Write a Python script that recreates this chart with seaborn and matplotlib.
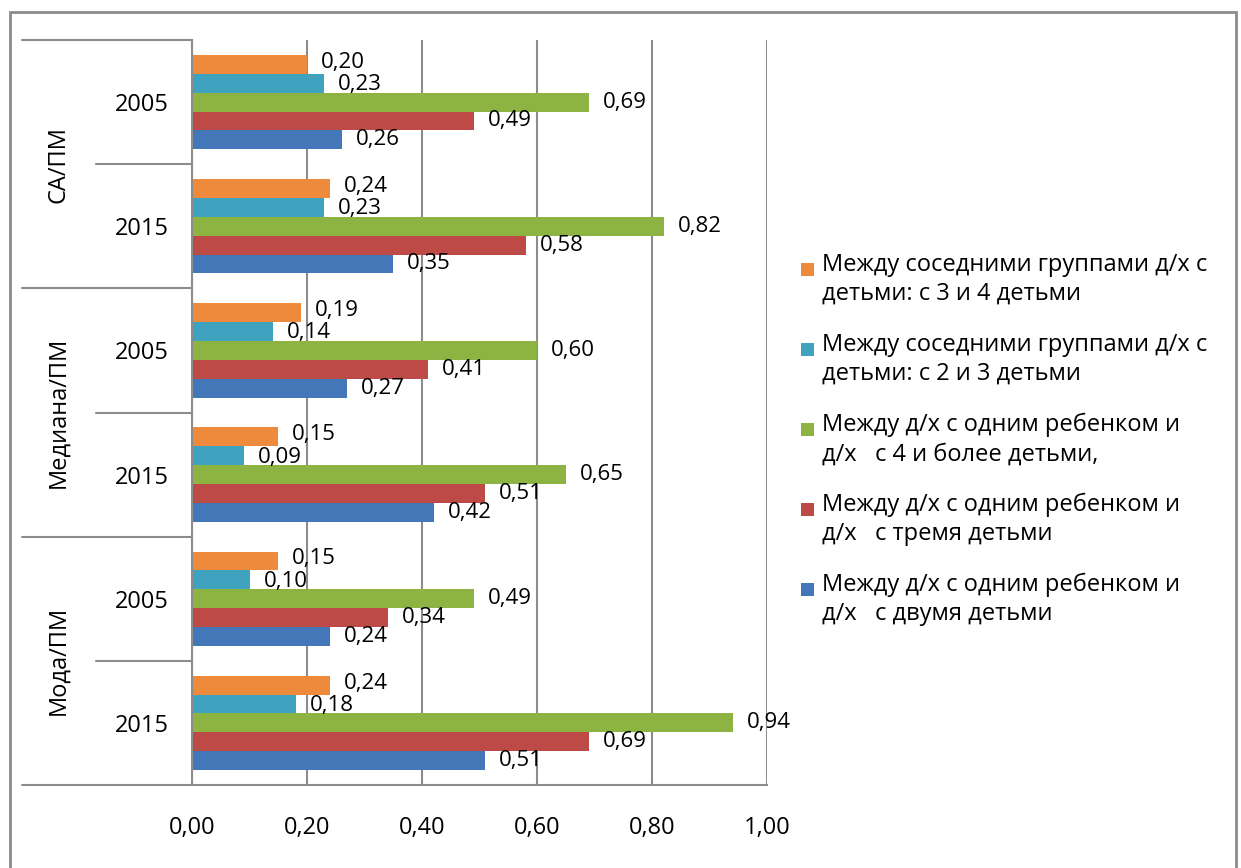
import matplotlib
matplotlib.use("Agg")
import matplotlib.pyplot as plt
import matplotlib.transforms as mtransforms
from matplotlib.patches import Rectangle
import numpy as np
import pandas as pd
import seaborn as sns

# данные
groups = ["СА/ПМ", "Медиана/ПМ", "Мода/ПМ"]
years = ["2005", "2015"]
series = [
    "Между соседними группами д/х с\nдетьми: с 3 и 4 детьми",
    "Между соседними группами д/х с\nдетьми: с 2 и 3 детьми",
    "Между д/х с одним ребенком и\nд/х   с 4 и более детьми,",
    "Между д/х с одним ребенком и\nд/х   с тремя детьми",
    "Между д/х с одним ребенком и\nд/х   с двумя детьми",
]
colors = ["#EE8A3C", "#3FA3BF", "#8DB443", "#BE4A47", "#4477B8"]

# значения по категориям сверху вниз: СА 2005, СА 2015, Мед 2005, Мед 2015, Мода 2005, Мода 2015
orange_vals = [0.20, 0.24, 0.19, 0.15, 0.15, 0.24]
cyan_vals = [0.23, 0.23, 0.14, 0.09, 0.10, 0.18]
green_vals = [0.69, 0.82, 0.60, 0.65, 0.49, 0.94]
red_vals = [0.49, 0.58, 0.41, 0.51, 0.34, 0.69]
blue_vals = [0.26, 0.35, 0.27, 0.42, 0.24, 0.51]

cats = [g + " " + y for g in groups for y in years]
rows = []
for s, vals in zip(series, [orange_vals, cyan_vals, green_vals, red_vals, blue_vals]):
    for c, v in zip(cats, vals):
        rows.append({"cat": c, "series": s, "value": v})
df = pd.DataFrame(rows)

sns.set_style("white")
plt.rcParams["font.family"] = ["Open Sans", "DejaVu Sans"]
plt.rcParams["text.color"] = "black"
plt.rcParams["xtick.color"] = "black"
plt.rcParams["ytick.color"] = "black"
fs = 17

fig = plt.figure(figsize=(12.41, 8.68), dpi=100)
ax = fig.add_axes([192/1241, 1-785/868, (767-192)/1241, (785-40)/868])

sns.barplot(data=df, y="cat", x="value", hue="series", order=cats, hue_order=series,
            palette=colors, orient="h", width=0.76, gap=0, legend=False,
            saturation=1, ax=ax, edgecolor="none")

ax.set_xlim(0, 1.0)
ax.set_ylim(5.5, -0.5)
ax.set_xticks(np.arange(0, 1.01, 0.2))
ax.set_xticklabels([f"{t:.2f}".replace(".", ",") for t in np.arange(0, 1.01, 0.2)], fontsize=fs)
ax.set_yticks(range(len(cats)))
ax.set_yticklabels(years * len(groups), fontsize=fs)
ax.set_xlabel("")
ax.set_ylabel("")
ax.grid(axis="x", color="#8c8c8c", linewidth=1.5)
ax.set_axisbelow(True)
ax.tick_params(axis="x", length=6, color="#8c8c8c", labelcolor="black", width=1.5, pad=16)
ax.tick_params(axis="y", length=0, pad=17, labelcolor="black")
for sp in ["top", "right"]:
    ax.spines[sp].set_visible(False)
for sp in ["left", "bottom"]:
    ax.spines[sp].set_color("#8c8c8c")
    ax.spines[sp].set_linewidth(1.5)

# подписи значений
shifts = [1.5, -1.0, 0, 0, 0]
for cont, dy in zip(ax.containers, shifts):
    texts = ax.bar_label(cont, labels=[f"{b.get_width():.2f}".replace(".", ",") for b in cont],
                         padding=10, fontsize=16, color="black")
    for t in texts:
        t.xyann = (t.xyann[0], dy)

# разделители групп и подписи групп
trans = mtransforms.blended_transform_factory(ax.transAxes, ax.transData)
x_long = (22 - 192) / 575
x_short = (96 - 192) / 575
for k in range(len(groups) + 1):
    ax.plot([x_long, 0], [k*2 - 0.5, k*2 - 0.5], transform=trans, color="#8c8c8c",
            linewidth=1.5, clip_on=False)
for k, g in enumerate(groups):
    ax.plot([x_short, 0], [k*2 + 0.5, k*2 + 0.5], transform=trans, color="#8c8c8c",
            linewidth=1.5, clip_on=False)
    ax.text((58 - 192) / 575, k*2 + 0.5, g, transform=trans, rotation=90,
            ha="center", va="center", fontsize=fs)

# легенда
top = 1 - 253/868
step = 80/868
for i, (s, c) in enumerate(zip(series, colors)):
    y = top - i*step
    fig.patches.append(Rectangle((801/1241, y - 23/868), 13/1241, 13/868,
                                 transform=fig.transFigure, facecolor=c, edgecolor="none"))
    fig.text(822/1241, y, s, fontsize=fs, va="top", ha="left", linespacing=1.27)

# рамка
fig.patches.append(Rectangle((10/1241, -0.01), (1236-10)/1241, 1-12/868 + 0.01,
                             transform=fig.transFigure, fill=False, edgecolor="#8c8c8c",
                             linewidth=2))

fig.savefig("out.png", dpi=100)
